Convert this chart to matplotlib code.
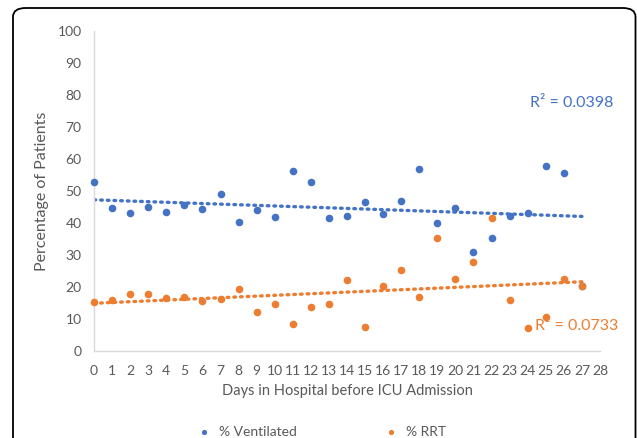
import numpy as np
import matplotlib.pyplot as plt
from matplotlib.patches import FancyBboxPatch

plt.rcParams['font.family'] = ['Lato', 'DejaVu Sans']

# --- Data ---
days_vent = list(range(0, 28))
pct_ventilated = [52.8, 44.6, 43.1, 44.9, 43.4, 45.7, 44.4, 49.1, 40.4, 44.0,
                  41.9, 56.3, 52.8, 41.6, 42.2, 46.5, 42.9, 47.0, 56.8, 40.0,
                  44.6, 30.9, 35.4, 42.2, 43.0, 57.9, 55.6, 20.2]
days_rrt = list(range(0, 28))
pct_rrt = [15.3, 16.0, 17.9, 17.9, 16.7, 16.8, 15.7, 16.4, 19.5, 12.3,
           14.6, 8.4, 13.6, 14.8, 22.2, 7.5, 20.3, 25.2, 16.8, 35.4,
           22.6, 27.9, 41.5, 15.8, 7.2, 10.6, 22.6, 20.2]
r2_labels = ["R\u00b2 = 0.0398", "R\u00b2 = 0.0733"]

BLUE = '#4472C4'
ORANGE = '#ED7D31'
GRAY = '#595959'

W, H = 637, 438
fig = plt.figure(figsize=(W / 100, H / 100), dpi=100)
ax = fig.add_axes([94 / W, 1 - 351 / H, (600 - 94) / W, (351 - 31) / H])

# rounded outer frame (bottom edge falls outside the image)
box = FancyBboxPatch((13 / W, -30 / H), (635.5 - 13) / W, (438 - 8 + 30) / H,
                     boxstyle="round,pad=0,rounding_size=0.02",
                     transform=fig.transFigure, fill=False,
                     edgecolor='black', linewidth=1.3, clip_on=False)
fig.patches.append(box)

ax.scatter(days_vent, pct_ventilated, s=20, color=BLUE, zorder=3,
           clip_on=False, label='% Ventilated')
ax.scatter(days_rrt, pct_rrt, s=20, color=ORANGE, zorder=4,
           clip_on=False, label='% RRT')

# linear trendlines
xt = np.linspace(0, 27, 200)
for xs, ys, c in [(days_vent, pct_ventilated, BLUE), (days_rrt, pct_rrt, ORANGE)]:
    m, b = np.polyfit(xs, ys, 1)
    ax.plot(xt, m * xt + b, color=c, linestyle=(0, (0.5, 1.5)),
            linewidth=2.4, dash_capstyle='round', zorder=2)

ax.text(24.1, 77.5, r2_labels[0], color=BLUE, fontsize=11.5, va='center')
ax.text(24.4, 7.8, r2_labels[1], color=ORANGE, fontsize=11.5, va='center')

ax.set_xlim(0, 28)
ax.set_ylim(0, 100)
ax.set_xticks(range(0, 29))
ax.set_yticks(range(0, 101, 10))
ax.tick_params(length=0, labelsize=10, labelcolor=GRAY, pad=9)
ax.tick_params(axis='x', pad=10)
for s in ['top', 'right']:
    ax.spines[s].set_visible(False)
for s in ['left', 'bottom']:
    ax.spines[s].set_color('#D9D9D9')
    ax.spines[s].set_linewidth(1)

ax.set_xlabel('Days in Hospital before ICU Admission', fontsize=10.5,
              color=GRAY, labelpad=5)
ax.set_ylabel('Percentage of Patients', fontsize=11.5, color=GRAY, labelpad=6)

leg = fig.legend(loc='center', bbox_to_anchor=(318 / W, 1 - 432 / H), ncol=2,
                 frameon=False, fontsize=10, labelcolor=GRAY,
                 columnspacing=5.75, handletextpad=0.1, markerscale=0.6)

fig.savefig('out.png', dpi=100)
